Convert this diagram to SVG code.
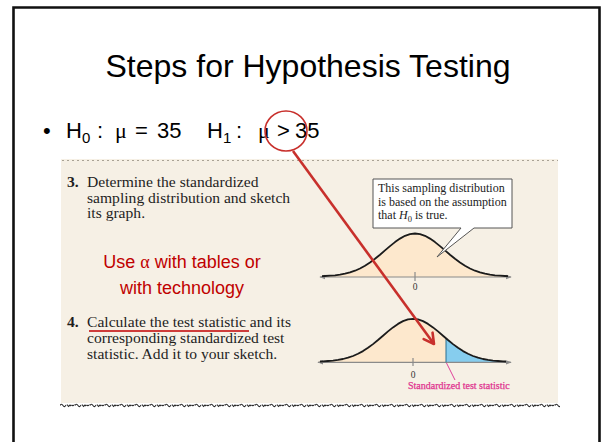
<svg xmlns="http://www.w3.org/2000/svg" width="602" height="442" viewBox="0 0 602 442">
<style>
.sans{font-family:"Liberation Sans",Arial,sans-serif}
.serif{font-family:"Liberation Serif","Times New Roman",serif}
.step{font-family:"Liberation Serif","Times New Roman",serif;font-size:15.6px;fill:#1e1e1e}
.num{font-weight:bold}
.note{font-family:"Liberation Sans",Arial,sans-serif;font-size:18px;fill:#c00000}
.curve{fill:none;stroke:#1b1b1b;stroke-width:1.8;stroke-linejoin:round}
.axis{stroke:#8a8a8a;stroke-width:1.2}
.peach{fill:#fde8cd}
.blue{fill:#86cdee}
.small{font-family:"Liberation Serif","Times New Roman",serif;font-size:9.5px;fill:#333}
.red{stroke:#c8302c;fill:none}
</style>
<defs>
<marker id="axhead" viewBox="0 0 8 8" refX="7" refY="4" markerWidth="6" markerHeight="6" markerUnits="userSpaceOnUse" orient="auto-start-reverse">
<path d="M0,1 L8,4 L0,7 z" fill="#8a8a8a"/>
</marker>
<marker id="redhead" viewBox="0 0 14 14" refX="12" refY="7" markerWidth="14" markerHeight="14" markerUnits="userSpaceOnUse" orient="auto">
<path d="M2,1.5 L12,7 L2,12.5" fill="none" stroke="#c8302c" stroke-width="2.6" stroke-linecap="round" stroke-linejoin="round"/>
</marker>
<pattern id="wavy" x="0" y="0" width="15" height="6" patternUnits="userSpaceOnUse">
<path d="M0,3.5 q1.5,-2.5 3,0 t3,-0.5 M7,2.5 l1.5,2 l1.5,-1.5 l1,1 M11.5,3 q1.5,1.5 3,-0.5" fill="none" stroke="#2a2a2a" stroke-width="1.1"/>
</pattern>
</defs>

<rect x="0" y="0" width="602" height="442" fill="#ffffff"/>

<g id="frame">
<path d="M13.5,442 V7.5 H599.5 V442" fill="none" stroke="#111" stroke-width="2.6"/>
</g>

<g id="title">
<text class="sans" x="308" y="77" font-size="32" text-anchor="middle" fill="#000">Steps for Hypothesis Testing</text>
</g>

<g id="hypotheses" class="sans" font-size="22" fill="#000">
<text x="43" y="138">•</text>
<text x="66" y="138">H<tspan font-size="15" dy="5">0</tspan></text>
<text x="97" y="138">:</text>
<text class="serif" x="115" y="138">μ</text>
<text x="135" y="138">=</text>
<text x="157" y="138">35</text>
<text x="207" y="138">H<tspan font-size="15" dy="5">1</tspan></text>
<text x="236" y="138">:</text>
<text class="serif" x="258" y="138">μ</text>
<text x="277" y="138">&gt;</text>
<text x="295" y="138">35</text>
</g>

<g id="panel">
<rect x="61" y="159" width="497" height="244" fill="#f6f0e5"/>
<line x1="62" y1="160.5" x2="558" y2="160.5" stroke="#a9a294" stroke-width="1" stroke-dasharray="2 3"/>
<rect x="60" y="402" width="500" height="6" fill="url(#wavy)"/>
</g>

<g id="step3" class="step">
<text x="67" y="187" class="num">3.</text>
<text x="87" y="187">Determine the standardized</text>
<text x="87" y="202.5">sampling distribution and sketch</text>
<text x="87" y="218">its graph.</text>
</g>

<g id="note" class="note" text-anchor="middle">
<text x="182" y="268">Use <tspan class="serif">α</tspan> with tables or</text>
<text x="182" y="294">with technology</text>
</g>

<g id="step4" class="step">
<text x="67" y="327" class="num">4.</text>
<text x="87" y="327">Calculate the test statistic and its</text>
<text x="87" y="343">corresponding standardized test</text>
<text x="87" y="359">statistic. Add it to your sketch.</text>
<line x1="89" y1="331" x2="249" y2="331" stroke="#c00000" stroke-width="1.5"/>
</g>

<g id="graph1">
<polygon class="peach" points="320,277 320,276.2 325,276.0 330,275.7 335,275.3 340,274.6 345,273.7 350,272.4 355,270.7 360,268.5 365,265.8 370,262.5 375,258.8 380,254.7 385,250.4 390,246.1 395,242.1 400,238.6 405,235.8 410,234.1 415,233.5 420,234.1 425,235.8 430,238.6 435,242.1 440,246.1 445,250.4 450,254.7 455,258.8 460,262.5 465,265.8 470,268.5 475,270.7 480,272.4 485,273.7 490,274.6 495,275.3 500,275.7 505,276.0 510,276.2 510,277"/>
<line class="axis" x1="320" y1="277" x2="511" y2="277" marker-start="url(#axhead)" marker-end="url(#axhead)"/>
<line class="axis" x1="415" y1="272" x2="415" y2="281"/>
<polyline class="curve" points="322,276.2 325,276.0 330,275.7 335,275.3 340,274.6 345,273.7 350,272.4 355,270.7 360,268.5 365,265.8 370,262.5 375,258.8 380,254.7 385,250.4 390,246.1 395,242.1 400,238.6 405,235.8 410,234.1 415,233.5 420,234.1 425,235.8 430,238.6 435,242.1 440,246.1 445,250.4 450,254.7 455,258.8 460,262.5 465,265.8 470,268.5 475,270.7 480,272.4 485,273.7 490,274.6 495,275.3 500,275.7 505,276.0 508,276.2"/>
<text class="small" x="415" y="290" text-anchor="middle">0</text>
</g>

<g id="callout">
<path d="M373,179 H512 V228 H474 L437,257 L461,228 H373 Z" fill="#ffffff" stroke="#555" stroke-width="1"/>
<g class="serif" font-size="12" fill="#222">
<text x="378" y="192">This sampling distribution</text>
<text x="378" y="205.5">is based on the assumption</text>
<text x="378" y="219">that <tspan font-style="italic">H</tspan><tspan font-size="8.5" dy="2.5">0</tspan><tspan dy="-2.5"> is true.</tspan></text>
</g>
</g>

<g id="graph2">
<polygon class="peach" points="318,362 318,361.5 323,361.3 328,361.0 333,360.6 338,359.9 343,359.0 348,357.7 353,356.0 358,353.8 363,351.1 368,347.8 373,344.1 378,340.0 383,335.7 388,331.4 393,327.4 398,323.9 403,321.1 408,319.4 413,318.8 418,319.4 423,321.1 428,323.9 433,327.4 438,331.4 443,335.7 446,338.3 446,362"/>
<polygon class="blue" points="446,362 446,338.3 448,340.0 453,344.1 458,347.8 463,351.1 468,353.8 473,356.0 478,357.7 483,359.0 488,359.9 493,360.6 498,361.0 503,361.3 508,361.5 508,362"/>
<line class="axis" x1="318" y1="362.3" x2="511" y2="362.3" marker-start="url(#axhead)" marker-end="url(#axhead)"/>
<line class="axis" x1="413" y1="358" x2="413" y2="366"/>
<line x1="446" y1="338.3" x2="446" y2="362.3" stroke="#2b6f8f" stroke-width="1"/>
<polyline class="curve" points="320,361.5 323,361.3 328,361.0 333,360.6 338,359.9 343,359.0 348,357.7 353,356.0 358,353.8 363,351.1 368,347.8 373,344.1 378,340.0 383,335.7 388,331.4 393,327.4 398,323.9 403,321.1 408,319.4 413,318.8 418,319.4 423,321.1 428,323.9 433,327.4 438,331.4 443,335.7 448,340.0 453,344.1 458,347.8 463,351.1 468,353.8 473,356.0 478,357.7 483,359.0 488,359.9 493,360.6 498,361.0 503,361.3 506,361.5"/>
<text class="small" x="413" y="378" text-anchor="middle">0</text>
<line x1="446.5" y1="363" x2="455" y2="380" stroke="#e0409a" stroke-width="1"/>
<text class="serif" x="408" y="389" font-size="10" fill="#e0338f" stroke="#e0338f" stroke-width="0.25">Standardized test statistic</text>
</g>

<g id="connectors">
<ellipse class="red" cx="286" cy="131" rx="21" ry="20" stroke-width="1.6"/>
<line class="red" x1="293" y1="151" x2="434" y2="344" stroke-width="2.6" marker-end="url(#redhead)"/>
</g>
</svg>
